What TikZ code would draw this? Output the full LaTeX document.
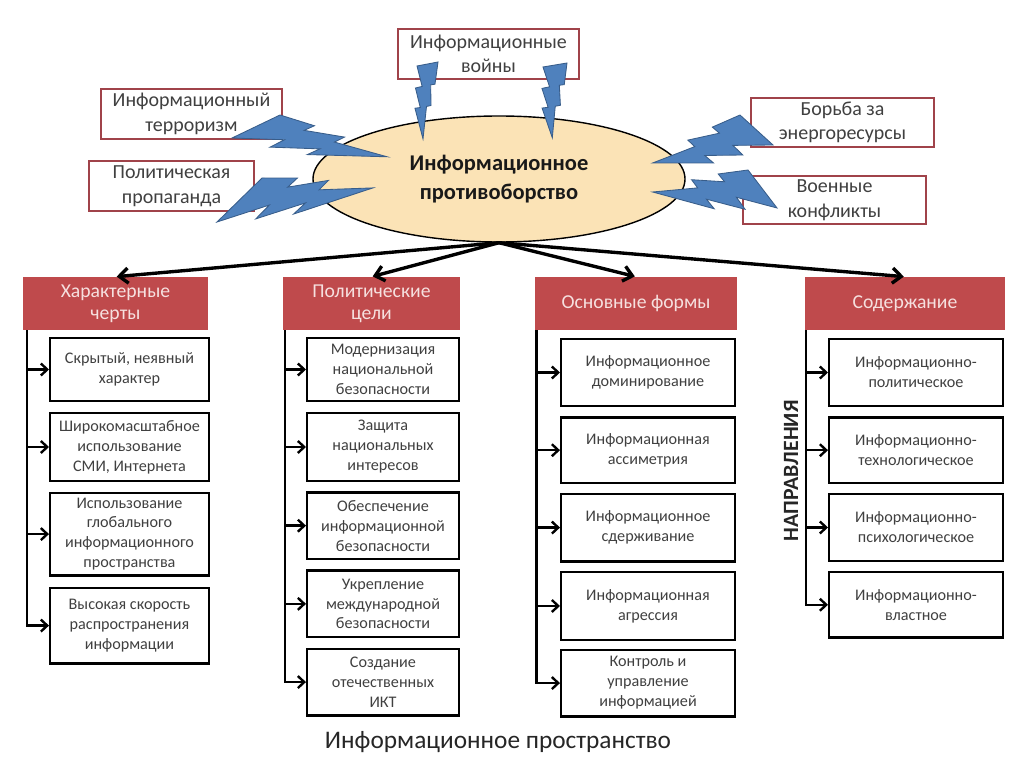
\documentclass[tikz,border=0pt]{standalone}
\usepackage{fontspec}
\setmainfont{Carlito}
\usepackage{xcolor}
\usepackage{tikz}
\usetikzlibrary{positioning, arrows.meta, calc, shapes.geometric}
\definecolor{hdRed}{HTML}{BF4A4C}
\definecolor{hdText}{HTML}{F6E0DF}
\definecolor{tagEdge}{HTML}{A0434A}
\definecolor{boltBlue}{HTML}{4F81BD}
\definecolor{boltEdge}{HTML}{385D8A}
\definecolor{ovalFill}{HTML}{FBE3B6}
\definecolor{bodyText}{HTML}{404040}
% lightning bolt in its own frame: origin (#1,#2), u-vector (#3,#4), v-vector (#5,#6), all in px
\newcommand{\bolt}[6]{%
  \begin{scope}[shift={(#1,#2)}, x={({0.25mm*(#3)},{-0.25mm*(#4)})}, y={({0.25mm*(#5)},{-0.25mm*(#6)})}]
    \filldraw[bolt] (0.392,0) -- (0.595,0.281) -- (0.512,0.315) -- (0.767,0.556)
      -- (0.684,0.596) -- (1,1) -- (0.464,0.690) -- (0.566,0.648)
      -- (0.232,0.449) -- (0.352,0.388) -- (0,0.180) -- cycle;
  \end{scope}}

\begin{document}
\begin{tikzpicture}[
  x=0.25mm, y=-0.25mm,
  every node/.style={font=\fontsize{11.5}{14.2}\selectfont, text=bodyText},
  tag/.style={rectangle, draw=tagEdge, line width=1.3pt, fill=white,
              align=center, font=\fontsize{14.2}{17.5}\selectfont,
              minimum height=12.6mm, inner sep=0.5mm},
  oval/.style={ellipse, draw=black, line width=1pt, fill=ovalFill,
               align=center, text=black!90, font=\fontsize{16}{21}\selectfont\bfseries,
               minimum width=93mm, minimum height=31.5mm, inner sep=0pt},
  head/.style={rectangle, fill=hdRed, text=hdText, align=center,
               font=\fontsize{14}{15.5}\selectfont,
               minimum height=13.25mm, inner sep=0.5mm},
  cell/.style={rectangle, draw=black, line width=1.7pt, fill=white,
               align=center, inner sep=0.5mm},
  bolt/.style={fill=boltBlue, draw=boltEdge, line width=0.6pt},
  fan/.style={-{Straight Barb[length=2.2mm, width=3.8mm]}, line width=2.4pt, shorten >=0.3mm},
  tap/.style={-{Straight Barb[length=1.6mm, width=3mm]}, line width=1.7pt},
]
  \useasboundingbox (0,0) rectangle (1024,767);

  % threats round the centre
  \node[tag, minimum width=45.4mm] (war)    at (488.5, 54)  {Информационные\\войны};
  \node[tag, minimum width=45.4mm] (terror) at (191.5, 114) {Информационный\\терроризм};
  \node[tag, minimum width=41.4mm] (prop)   at (171.5, 186) {Политическая\\пропаганда};
  \node[tag, minimum width=45.9mm, minimum height=12.3mm] (energy) at (842.5, 122.5) {Борьба за\\энергоресурсы};
  \node[tag, minimum width=45.9mm, minimum height=12.1mm] (clash)  at (834.5, 200)   {Военные\\конфликты};

  \node[oval] (oval) at (499, 179) {Информационное\\противоборство};

  % bolts from the threats into the oval
  \bolt{423.7}{54.3}{36.5}{19.6}{-37.2}{65}
  \bolt{550.3}{55.6}{42.6}{18.9}{-40.6}{63.3}
  \bolt{227.4}{127.1}{134.2}{-30.9}{25.6}{60.6}
  \bolt{211.2}{211}{129.6}{-84.2}{32.2}{61.1}
  \bolt{778.1}{131.7}{-97.2}{-42.6}{-28.3}{73.9}
  \bolt{784.1}{196.6}{-92.1}{-67.9}{-39.4}{63.3}

  % column headers
  \node[head, minimum width=46.25mm] (hd1) at (115.5, 303.5) {Характерные\\черты};
  \node[head, minimum width=44.25mm] (hd2) at (371.5, 303.5) {Политические\\цели};
  \node[head, minimum width=50.5mm]  (hd3) at (636, 303.5)   {Основные формы};
  \node[head, minimum width=50mm]    (hd4) at (905, 303.5)   {Содержание};

  \foreach \h in {hd1, hd2, hd3, hd4}
    \draw[fan] (oval.south) -- (\h.north);

  % column 1
  \node[cell, anchor=north west, minimum width=39.65mm, minimum height=15.65mm] at (49, 337) (c1a) {Скрытый, неявный\\характер};
  \node[cell, below=2.5mm of c1a, minimum width=39.65mm, minimum height=16.9mm]  (c1b) {Широкомасштабное\\использование\\СМИ, Интернета};
  \node[cell, below=2.4mm of c1b, minimum width=39.65mm, minimum height=20.65mm] (c1c) {Использование\\глобального\\информационного\\пространства};
  \node[cell, below=2.5mm of c1c, minimum width=39.65mm, minimum height=18.9mm]  (c1d) {Высокая скорость\\распространения\\информации};

  % column 2
  \node[cell, anchor=north west, minimum width=37.9mm, minimum height=15.65mm] at (306, 337) (c2a) {Модернизация\\национальной\\безопасности};
  \node[cell, below=2.5mm of c2a, minimum width=37.9mm, minimum height=16.9mm]  (c2b) {Защита\\национальных\\интересов};
  \node[cell, below=2.3mm of c2b, minimum width=37.9mm, minimum height=16.65mm] (c2c) {Обеспечение\\информационной\\безопасности};
  \node[cell, below=2.3mm of c2c, minimum width=37.9mm, minimum height=16.65mm] (c2d) {Укрепление\\международной\\безопасности};
  \node[cell, below=2.3mm of c2d, minimum width=37.9mm, minimum height=16.65mm] (c2e) {Создание\\отечественных\\ИКТ};

  % column 3
  \node[cell, anchor=north west, minimum width=43.4mm, minimum height=16.65mm] at (560, 338) (c3a) {Информационное\\доминирование};
  \node[cell, below=2.3mm of c3a, minimum width=43.4mm, minimum height=16.4mm]  (c3b) {Информационная\\ассиметрия};
  \node[cell, below=2.1mm of c3b, minimum width=43.4mm, minimum height=16.9mm]  (c3c) {Информационное\\сдерживание};
  \node[cell, below=2.1mm of c3c, minimum width=43.4mm, minimum height=16.9mm]  (c3d) {Информационная\\агрессия};
  \node[cell, below=1.9mm of c3d, minimum width=43.4mm, minimum height=16.65mm] (c3e) {Контроль и\\управление\\информацией};

  % column 4
  \node[cell, anchor=north west, minimum width=43.4mm, minimum height=16.65mm] at (828, 338) (c4a) {Информационно-\\политическое};
  \node[cell, below=2.3mm of c4a, minimum width=43.4mm, minimum height=16.4mm]  (c4b) {Информационно-\\технологическое};
  \node[cell, below=2.2mm of c4b, minimum width=43.4mm, minimum height=16.65mm] (c4c) {Информационно-\\психологическое};
  \node[cell, below=2.2mm of c4c, minimum width=43.4mm, minimum height=16.4mm]  (c4d) {Информационно-\\властное};

  % spines
  \coordinate (s1) at ([xshift=1mm]hd1.south west);
  \coordinate (s2) at ([xshift=0.5mm]hd2.south west);
  \coordinate (s3) at ([xshift=0.4mm]hd3.south west);
  \coordinate (s4) at ([xshift=0.3mm]hd4.south west);
  \foreach \b in {c1a, c1b, c1c, c1d}      \draw[tap] (s1) |- (\b.west);
  \foreach \b in {c2a, c2b, c2c, c2d, c2e} \draw[tap] (s2) |- (\b.west);
  \foreach \b in {c3a, c3b, c3c, c3d, c3e} \draw[tap] (s3) |- (\b.west);
  \foreach \b in {c4a, c4b, c4c, c4d}      \draw[tap] (s4) |- (\b.west);

  \node[rotate=90, text=black!85, font=\fontsize{15.5}{17}\selectfont\bfseries] (dirs) at (791, 471) {НАПРАВЛЕНИЯ};

  \node[text=black!85, font=\fontsize{18}{21}\selectfont] (space) at (498, 742) {Информационное пространство};
\end{tikzpicture}
\end{document}
